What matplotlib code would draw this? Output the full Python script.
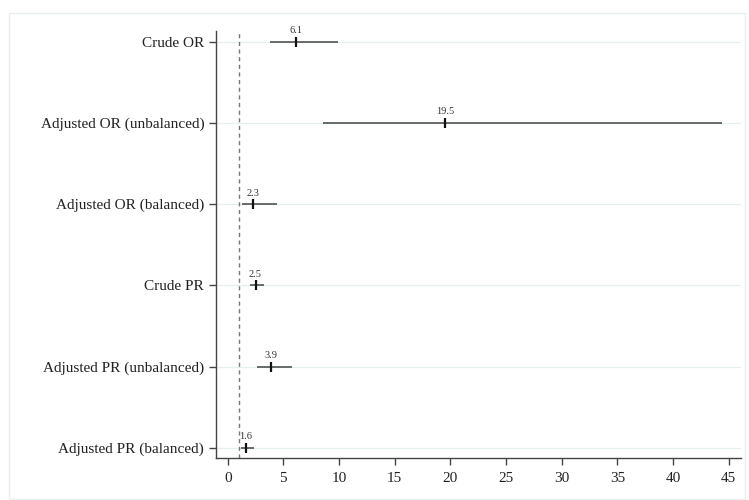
import matplotlib
matplotlib.use("Agg")
import matplotlib.pyplot as plt
from matplotlib.patches import Rectangle

# Estimates with 95% confidence intervals, top to bottom
labels = [
    "Crude OR",
    "Adjusted OR (unbalanced)",
    "Adjusted OR (balanced)",
    "Crude PR",
    "Adjusted PR (unbalanced)",
    "Adjusted PR (balanced)",
]
estimates = [6.1, 19.5, 2.3, 2.5, 3.9, 1.6]
ci_low = [3.8, 8.6, 1.3, 2.0, 2.6, 1.2]
ci_high = [9.9, 44.4, 4.4, 3.3, 5.8, 2.4]
x_ticks = list(range(0, 50, 5))
ref_value = 1

plt.rcParams["font.family"] = ["Liberation Serif", "DejaVu Serif"]

fig = plt.figure(figsize=(7.49, 5.0), dpi=100)
# faint graph-region border
fig.patches.append(Rectangle((9 / 749, 0.002), 0.995 - 9 / 749, 1 - 13 / 500 - 0.002,
                             transform=fig.transFigure, fill=False,
                             edgecolor="#e6f0f0", lw=1.0))
ax = fig.add_axes([216 / 749, 42 / 500, (741 - 216) / 749, (469 - 42) / 500])

n = len(labels)
ypos = [n - 1 - i for i in range(n)]

for y in ypos:
    ax.axhline(y, color="#e4f0f0", lw=0.9, zorder=0)

ax.axvline(ref_value, color="#777777", lw=1.0, ls=(0, (3, 2.5)), zorder=1)

ax.hlines(ypos, ci_low, ci_high, color="#444444", lw=1.1, zorder=2)
ax.plot(estimates, ypos, ls="none", marker="|", ms=7, mew=1.6, color="#111111", zorder=3)
for x, y in zip(estimates, ypos):
    ax.text(x, y + 0.08, f"{x:.1f}", ha="center", va="bottom", fontsize=7.5, color="#333333")

ax.set_yticks(ypos)
ax.set_yticklabels(labels, fontsize=11, color="#222222")
ax.set_xticks(x_ticks)
ax.set_xticklabels([str(t) for t in x_ticks], fontsize=11, color="#222222")
ax.set_xlim(-1.05, 46.1)
ax.set_ylim(-0.125, n - 1 + 0.13)

for side in ("top", "right"):
    ax.spines[side].set_visible(False)
for side in ("left", "bottom"):
    ax.spines[side].set_color("#444444")
    ax.spines[side].set_linewidth(1.0)
ax.tick_params(axis="both", direction="out", length=5, width=1.0, color="#444444")
ax.tick_params(axis="x", pad=5)

fig.savefig("out.png", dpi=100)
